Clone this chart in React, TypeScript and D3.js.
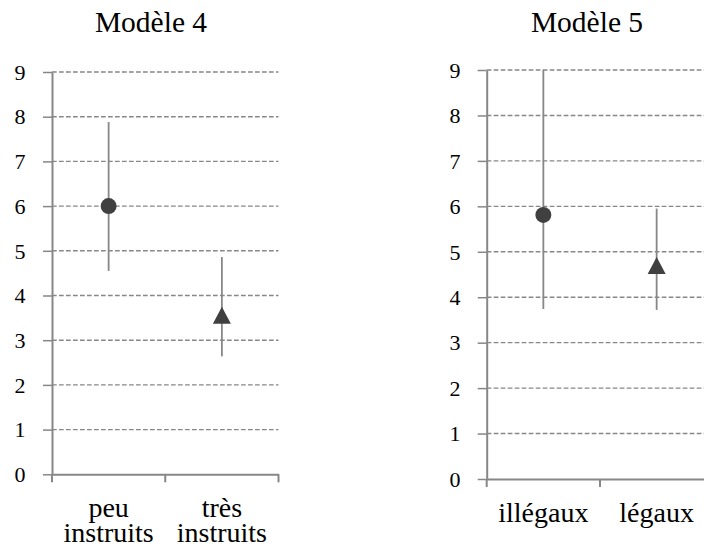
import React, { useEffect, useRef } from "react";
import * as d3 from "d3";

const yTicks = [0, 1, 2, 3, 4, 5, 6, 7, 8, 9];

const titles = ["Modèle 4", "Modèle 5"];

const cats4 = ["peu instruits", "très instruits"];
const est4 = [6.0, 3.56];
const low4 = [4.55, 2.64];
const high4 = [7.88, 4.86];

const cats5 = ["illégaux", "légaux"];
const est5 = [5.81, 4.7];
const low5 = [3.74, 3.72];
const high5 = [9.0, 5.95];

const markers = ["circle", "triangle"];

const FONT = "Liberation Serif, DejaVu Serif, serif";
const GRID = "#878787";
const MARK = "#404040";

interface PanelCfg {
  title: string;
  titleX: number;
  cats: string[];
  est: number[];
  low: number[];
  high: number[];
  x0: number;
  x1: number;
  yTop: number;
  yBot: number;
  labelX: number;
  labelBase: number;
}

function drawPanel(svg: d3.Selection<SVGSVGElement, unknown, null, undefined>, c: PanelCfg) {
  const g = svg.append("g").style("font-family", FONT);
  const y = d3.scaleLinear().domain([0, 9]).range([c.yBot, c.yTop]);
  const x = d3.scaleBand<string>().domain(c.cats).range([c.x0, c.x1]).padding(0);

  g.append("text")
    .attr("x", c.titleX)
    .attr("y", 32)
    .attr("text-anchor", "middle")
    .style("font-family", FONT)
    .style("font-size", "29.5px")
    .attr("fill", "#000")
    .text(c.title);

  g.selectAll("line.grid")
    .data(yTicks.filter((t) => t > 0))
    .join("line")
    .attr("class", "grid")
    .attr("x1", c.x0)
    .attr("x2", c.x1)
    .attr("y1", (d) => y(d))
    .attr("y2", (d) => y(d))
    .attr("stroke", GRID)
    .attr("stroke-width", 1.4)
    .attr("stroke-dasharray", "4.7,2.3");

  const ya = g
    .append("g")
    .attr("transform", `translate(${c.x0},0)`)
    .call(d3.axisLeft(y).tickValues(yTicks).tickSize(9).tickSizeOuter(0).tickFormat(d3.format("d")));
  ya.attr("font-family", null).attr("font-size", null);
  ya.select(".domain").attr("stroke", GRID).attr("stroke-width", 2);
  ya.selectAll(".tick line").attr("stroke", GRID).attr("stroke-width", 1.5);
  ya.selectAll(".tick text")
    .attr("x", c.labelX - c.x0)
    .style("font-family", FONT)
    .style("font-size", "22px")
    .attr("fill", "#000")
    .attr("text-anchor", "middle")
    .attr("dy", "0.33em");

  const xa = g
    .append("g")
    .attr("transform", `translate(0,${c.yBot})`)
    .call(d3.axisBottom(x).tickSize(0).tickSizeOuter(0).tickFormat(() => ""));
  xa.select(".domain").attr("stroke", GRID).attr("stroke-width", 2);
  xa.selectAll(".tick").remove();
  const bounds = [c.x0, ...c.cats.map((d) => (x(d) as number) + x.bandwidth())];
  g.selectAll("line.xtick")
    .data(bounds)
    .join("line")
    .attr("class", "xtick")
    .attr("x1", (d) => d)
    .attr("x2", (d) => d)
    .attr("y1", c.yBot)
    .attr("y2", c.yBot + 8)
    .attr("stroke", GRID)
    .attr("stroke-width", 2);

  c.cats.forEach((cat) => {
    const words = cat.split(" ");
    const t = g
      .append("text")
      .attr("text-anchor", "middle")
      .style("font-family", FONT)
      .style("font-size", "28px")
      .attr("fill", "#000");
    words.forEach((w, i) => {
      t.append("tspan")
        .attr("x", (x(cat) as number) + x.bandwidth() / 2)
        .attr("y", c.labelBase + i * 25)
        .text(w);
    });
  });

  c.cats.forEach((cat, i) => {
    const cx = (x(cat) as number) + x.bandwidth() / 2;
    g.append("line")
      .attr("x1", cx)
      .attr("x2", cx)
      .attr("y1", y(c.low[i]))
      .attr("y2", y(c.high[i]))
      .attr("stroke", GRID)
      .attr("stroke-width", 1.8);
    const cy = y(c.est[i]);
    if (markers[i] === "circle") {
      g.append("circle").attr("cx", cx).attr("cy", cy).attr("r", 8).attr("fill", MARK);
    } else {
      const w = 18,
        h = 17;
      const p = d3.path();
      p.moveTo(cx, cy - h / 2);
      p.lineTo(cx + w / 2, cy + h / 2);
      p.lineTo(cx - w / 2, cy + h / 2);
      p.closePath();
      g.append("path").attr("d", p.toString()).attr("fill", MARK);
    }
  });
}

export default function App() {
  const ref = useRef<SVGSVGElement>(null);
  useEffect(() => {
    if (!ref.current) return;
    const svg = d3.select(ref.current);
    svg.selectAll("*").remove();
    svg.append("rect").attr("width", 704).attr("height", 554).attr("fill", "#fff");
    drawPanel(svg, {
      title: titles[0],
      titleX: 151,
      cats: cats4,
      est: est4,
      low: low4,
      high: high4,
      x0: 52,
      x1: 278.5,
      yTop: 72,
      yBot: 474.3,
      labelX: 20,
      labelBase: 517,
    });
    drawPanel(svg, {
      title: titles[1],
      titleX: 587,
      cats: cats5,
      est: est5,
      low: low5,
      high: high5,
      x0: 486.7,
      x1: 713.3,
      yTop: 70,
      yBot: 479,
      labelX: 455,
      labelBase: 522,
    });
  }, []);
  return (
    <svg
      ref={ref}
      width={704}
      height={554}
      style={{ position: "absolute", left: 0, top: 0, display: "block" }}
    />
  );
}
